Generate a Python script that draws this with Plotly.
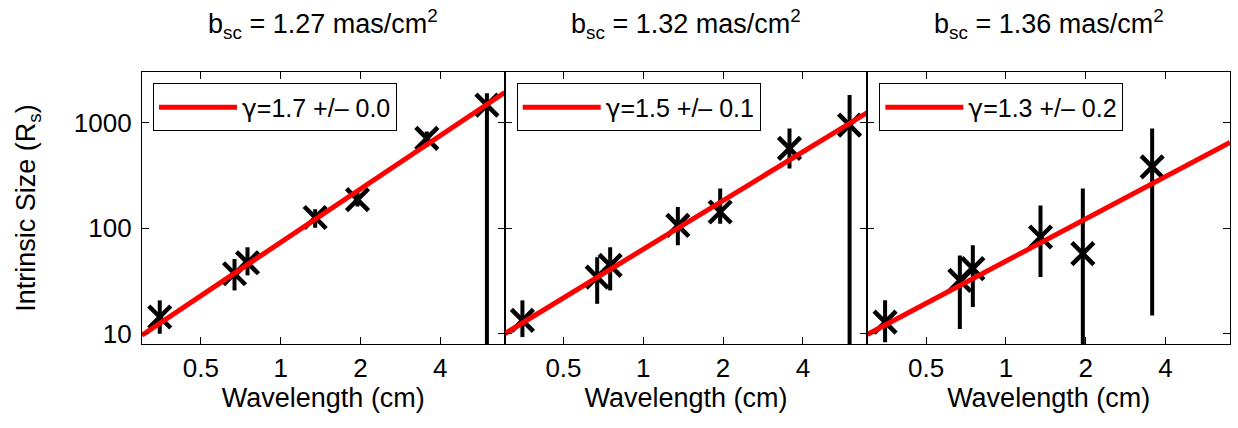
import math
import plotly.graph_objects as go

# ---------------- data ----------------
WAVELENGTH = [0.35, 0.67, 0.75, 1.35, 1.95, 3.56, 6.0]

SIZE_1 = [14.4, 37, 47, 126, 186, 705, 1459]
UPPER_1 = [20.7, 51, 66, 151, 215, 820, 1885]
LOWER_1 = [10.0, 25.7, 35.7, 101, 160, 590, 1.0]

SIZE_2 = [13.4, 34.4, 44.4, 106, 142, 567, 943]
UPPER_2 = [20.7, 53, 66, 158, 237, 877, 1815]
LOWER_2 = [9.3, 19.2, 25.7, 68.7, 110, 366, 1.0]

SIZE_3 = [12.9, 32, 41.3, 82.4, 57.3, 380]
UPPER_3 = [20.7, 55, 68.7, 164, 237, 877]
LOWER_3 = [8.3, 11.1, 17.9, 34.4, 1.0, 14.9]

FIT_X = [0.3, 7.0]
FIT_1 = [9.7, 1920]
FIT_2 = [10.0, 1240]
FIT_3 = [9.85, 645]

GAMMA = '<span style="font-family:DejaVu Sans">\u03b3</span>'
FIT_NAMES = [GAMMA + "=1.7 +/\u2013 0.0", GAMMA + "=1.5 +/\u2013 0.1", GAMMA + "=1.3 +/\u2013 0.2"]
PANEL_TITLES = ["b<sub>sc</sub> = 1.27 mas/cm<sup>2</sup>",
                "b<sub>sc</sub> = 1.32 mas/cm<sup>2</sup>",
                "b<sub>sc</sub> = 1.36 mas/cm<sup>2</sup>"]
X_TICKS = [0.5, 1, 2, 4]
X_TICKTEXT = ["0.5", "1", "2", "4"]
Y_TICKS = [10, 100, 1000]
Y_TICKTEXT = ["10", "100", "1000"]

FONT = "Liberation Sans, Arial, Helvetica, sans-serif"

panels = [
    (SIZE_1, UPPER_1, LOWER_1, FIT_1),
    (SIZE_2, UPPER_2, LOWER_2, FIT_2),
    (SIZE_3, UPPER_3, LOWER_3, FIT_3),
]

fig = go.Figure()
legend_x = [0.0101, 0.3444, 0.6777]

for i, (size, up, lo, fit) in enumerate(panels):
    ax = "" if i == 0 else str(i + 1)
    wl = WAVELENGTH[:len(size)]
    fig.add_trace(go.Scatter(
        x=wl, y=size, mode="markers",
        xaxis="x" + ax, yaxis="y" + ax,
        marker=dict(symbol="x-thin", size=22, color="black",
                    line=dict(width=4.5, color="black")),
        error_y=dict(type="data", symmetric=False,
                     array=[u - s for u, s in zip(up, size)],
                     arrayminus=[s - l for l, s in zip(lo, size)],
                     thickness=4, width=0, color="black"),
        showlegend=False, hoverinfo="x+y",
    ))
    fig.add_trace(go.Scatter(
        x=FIT_X, y=fit, mode="lines", name=FIT_NAMES[i],
        xaxis="x" + ax, yaxis="y" + ax,
        line=dict(color="#ff0000", width=5),
        legend="legend" + ax, showlegend=True,
    ))

layout = dict(
    width=1238, height=428,
    margin=dict(l=142, r=8, t=72, b=84, pad=0),
    paper_bgcolor="white", plot_bgcolor="white",
    font=dict(family=FONT, size=26, color="black"),
    showlegend=True,
    annotations=[],
)

domains = [[0, 1 / 3], [1 / 3, 2 / 3], [2 / 3, 1]]
for i in range(3):
    ax = "" if i == 0 else str(i + 1)
    layout["xaxis" + ax] = dict(
        type="log", domain=domains[i],
        range=[math.log10(0.3), math.log10(7.0)],
        tickvals=X_TICKS, ticktext=X_TICKTEXT,
        ticks="inside", ticklen=7, tickwidth=1, tickcolor="black",
        showline=True, linecolor="black", linewidth=1.2, mirror="ticks",
        showgrid=False, zeroline=False,
        anchor="y" + ax,
        ticklabelstandoff=1,
        tickfont=dict(size=26),
        title=dict(text="Wavelength (cm)", font=dict(size=27), standoff=4),
    )
    layout["yaxis" + ax] = dict(
        type="log", domain=[0, 1],
        range=[math.log10(8), math.log10(3000)],
        tickvals=Y_TICKS, ticktext=Y_TICKTEXT,
        ticks="inside", ticklen=7, tickwidth=1, tickcolor="black",
        showline=True, linecolor="black", linewidth=1.2, mirror="ticks",
        showgrid=False, zeroline=False,
        anchor="x" + ax,
        showticklabels=(i == 0),
        ticklabelstandoff=4,
        tickfont=dict(size=26),
    )
    if i == 0:
        layout["yaxis"]["title"] = dict(text="Intrinsic Size (R<sub>s</sub>)",
                                        font=dict(size=27), standoff=30)
    layout["legend" + ax] = dict(
        x=legend_x[i], y=0.958, xanchor="left", yanchor="top",
        xref="paper", yref="paper",
        bgcolor="white", bordercolor="black", borderwidth=1,
        font=dict(size=25, family=FONT),
        itemwidth=78,
    )
    layout["annotations"].append(dict(
        text=PANEL_TITLES[i], xref="x" + ax + " domain", yref="y" + ax + " domain",
        x=0.5, y=1, xanchor="center", yanchor="bottom", yshift=27,
        showarrow=False, font=dict(size=27),
    ))

fig.update_layout(**layout)
fig.write_html("out.html",
               config={"displayModeBar": False},
               post_script="document.body.style.margin='0';document.body.style.padding='0';")
